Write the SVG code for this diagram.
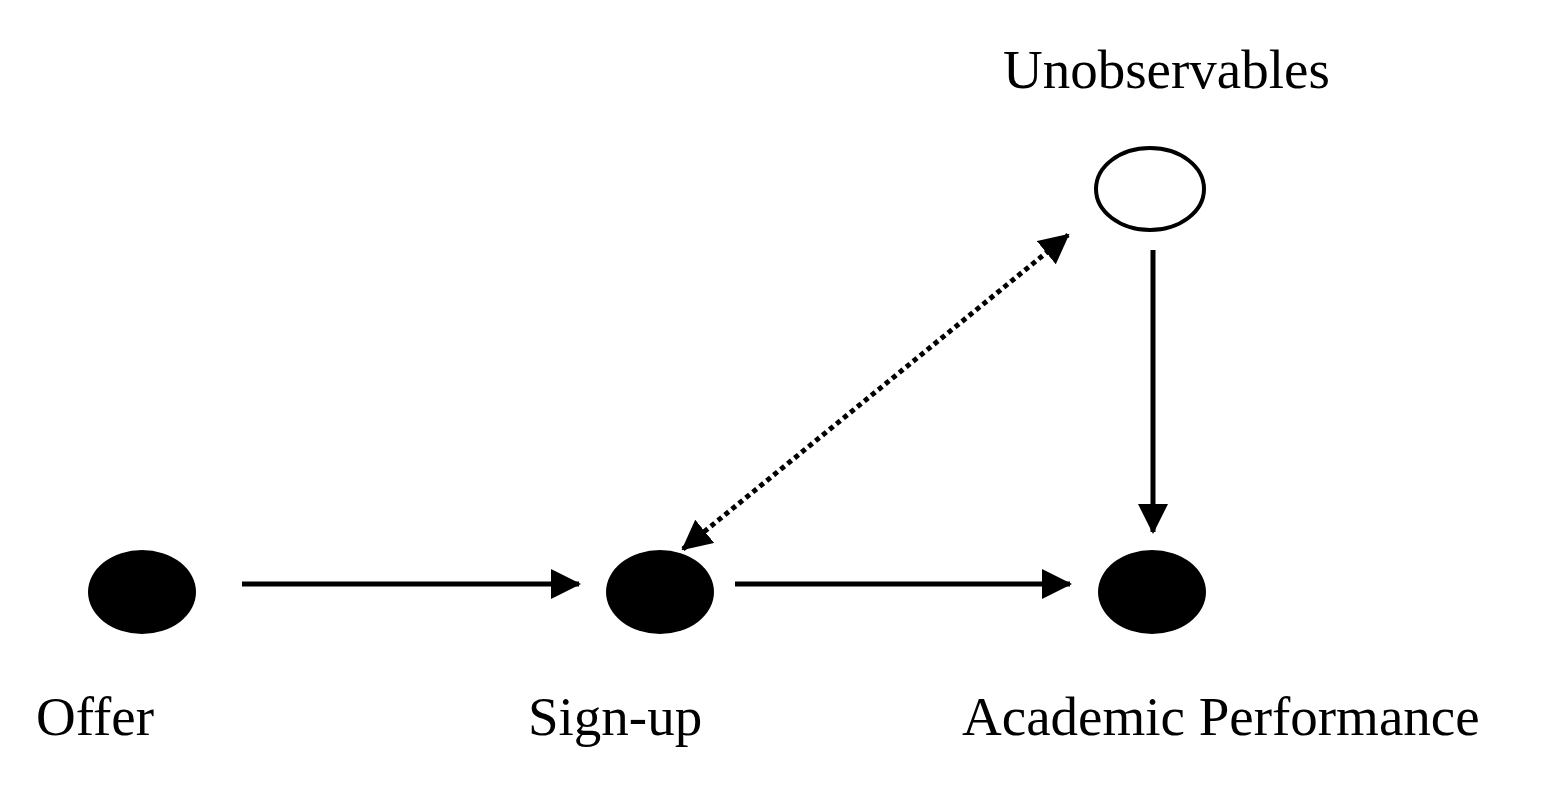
<svg xmlns="http://www.w3.org/2000/svg" width="1548" height="806" viewBox="0 0 1548 806">
<style>
text{font-family:"Liberation Serif","Times New Roman",serif;font-size:55px;fill:#000}
.edge{stroke:#000;stroke-width:5;fill:none}
.dot{stroke-dasharray:5 4}
</style>
<defs>
<marker id="ah" viewBox="0 0 30 30" refX="28" refY="15" markerWidth="30" markerHeight="30" markerUnits="userSpaceOnUse" orient="auto-start-reverse">
<path d="M0,0 L30,15 L0,30 Z" fill="#000"/>
</marker>
</defs>
<rect width="1548" height="806" fill="#fff"/>
<g id="connectors">
<line class="edge" x1="242" y1="584" x2="579" y2="584" marker-end="url(#ah)"/>
<line class="edge" x1="735" y1="584" x2="1070" y2="584" marker-end="url(#ah)"/>
<line class="edge" x1="1153" y1="250" x2="1153" y2="532" marker-end="url(#ah)"/>
<line class="edge dot" x1="683" y1="549" x2="1068" y2="235" marker-start="url(#ah)" marker-end="url(#ah)"/>
</g>
<g id="offer">
<ellipse cx="142" cy="592" rx="54" ry="42" fill="#000"/>
<text x="36" y="735">Offer</text>
</g>
<g id="signup">
<ellipse cx="660" cy="592" rx="54" ry="42" fill="#000"/>
<text x="528" y="735">Sign-up</text>
</g>
<g id="academic">
<ellipse cx="1152" cy="592" rx="54" ry="42" fill="#000"/>
<text x="962" y="735">Academic Performance</text>
</g>
<g id="unobservables">
<ellipse cx="1150" cy="189" rx="54" ry="41" fill="#fff" stroke="#000" stroke-width="4"/>
<text x="1003" y="88">Unobservables</text>
</g>
</svg>
